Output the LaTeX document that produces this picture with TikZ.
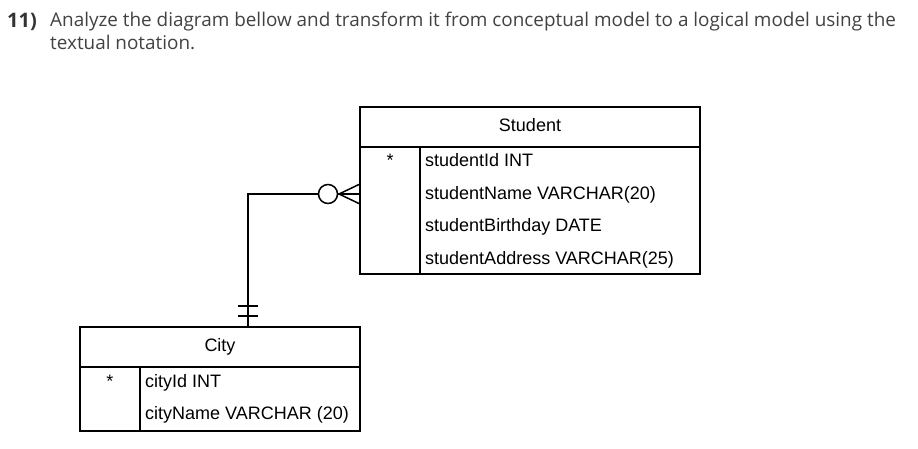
\documentclass[tikz,border=0pt]{standalone}
\usepackage{fontspec}
\setmainfont{Liberation Sans}
\newfontfamily\titlefont{Open Sans}
\definecolor{titlegray}{RGB}{66,66,66}
\definecolor{numgray}{RGB}{51,51,51}
\tikzset{
  tbl/.style={draw,line width=1.5pt,inner sep=0pt,outer sep=0pt},
  rel/.style={line width=1.5pt},
  hdr/.style={anchor=base,inner sep=0pt,font=\fontsize{18}{20}\selectfont},
  fld/.style={anchor=base west,inner sep=0pt,font=\fontsize{18}{20}\selectfont},
  ttl/.style={anchor=base west,inner sep=0pt,text=titlegray,font=\titlefont\fontsize{18.9}{22}\selectfont}
}
\begin{document}
\begin{tikzpicture}[x=1pt,y=-1pt]
\useasboundingbox (0,0) rectangle (918,449);
\node[ttl,text=numgray,font=\titlefont\bfseries\fontsize{20}{22}\selectfont] (num) at (7,27.5) {11)};
\node[ttl] (title) at (50,27) {Analyze the diagram bellow and transform it from conceptual model to a logical model using the};
\node[ttl] (title2) at (50,50) {textual notation.};
\node[tbl,minimum width=340pt,minimum height=167pt] (student) at (530,190.5) {};
\draw[rel] (360,147) -- (700,147);
\draw[rel] (420,147) -- (420,274);
\node[hdr] (studenthdr) at (530,131.5) {Student};
\node[hdr] (studentkey) at (390,167) {*};
\node[fld] (studentid) at (425,167) {studentId INT};
\node[fld] (studentname) at (425,199.5) {studentName VARCHAR(20)};
\node[fld] (studentbirth) at (425,232) {studentBirthday DATE};
\node[fld] (studentaddr) at (425,264.5) {studentAddress VARCHAR(25)};
\node[tbl,minimum width=280pt,minimum height=104pt] (city) at (220,379) {};
\draw[rel] (80,367) -- (360,367);
\draw[rel] (140,367) -- (140,431);
\node[hdr] (cityhdr) at (220,351) {City};
\node[hdr] (citykey) at (110,387.5) {*};
\node[fld] (cityid) at (145,387.5) {cityId INT};
\node[fld] (cityname) at (145,419) {cityName VARCHAR (20)};
\coordinate (fk) at ([yshift=-3.5pt]student.west);
\coordinate (pk) at ([xshift=28pt]city.north);
\draw[rel] (fk) -| (pk);
\draw[rel] (fk) ++(-21,0) -- ++(21,-10);
\draw[rel] (fk) ++(-21,0) -- ++(21,10);
\draw[rel,fill=white] (fk) ++(-32,0) circle [radius=9.5];
\draw[rel] (pk) ++(-10,-21) -- ++(20,0);
\draw[rel] (pk) ++(-10,-11) -- ++(20,0);
\end{tikzpicture}
\end{document}
